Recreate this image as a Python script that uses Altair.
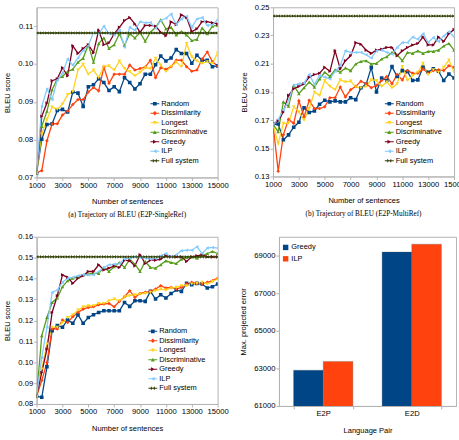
import altair as alt
import pandas as pd

# ---------------- data ----------------
sentences = [1000, 1400, 1800, 2200, 2600, 3000, 3400, 3800, 4200, 4600, 5000, 5400,
             5800, 6200, 6600, 7000, 7400, 7800, 8200, 8600, 9000, 9400, 9800, 10200,
             10600, 11000, 11400, 11800, 12200, 12600, 13000, 13400, 13800, 14200, 14600, 15000]

series_names = ["Random", "Dissimilarity", "Longest", "Discriminative", "Greedy", "ILP", "Full system"]
series_colors = ["#004586", "#ff420e", "#ffd320", "#579d1c", "#7e0021", "#83caff", "#314004"]

# (a) E2P-SingleRef
a_random = [0.0712, 0.0801, 0.0840, 0.0842, 0.0877, 0.0880, 0.0873, 0.0926, 0.0923, 0.0888, 0.0940, 0.0945,
            0.0961, 0.0951, 0.0930, 0.0940, 0.0927, 0.0964, 0.0951, 0.0934, 0.0948, 0.0973, 0.0973, 0.0998,
            0.1021, 0.1008, 0.1016, 0.1038, 0.1028, 0.1028, 0.1002, 0.1023, 0.1010, 0.1010, 0.0993, 0.0995]
a_dissim = [0.0712, 0.0718, 0.0797, 0.0842, 0.0842, 0.0865, 0.0875, 0.0893, 0.0906, 0.0906, 0.0926, 0.0938,
            0.0929, 0.0992, 0.0949, 0.0973, 0.0973, 0.0973, 0.0997, 0.0984, 0.0988, 0.0992, 0.1010, 0.0964,
            0.0990, 0.0986, 0.0993, 0.1010, 0.1010, 0.0993, 0.0981, 0.0984, 0.1013, 0.1032, 0.1006, 0.0995]
a_longest = [0.0712, 0.0815, 0.0853, 0.0886, 0.0880, 0.0894, 0.0919, 0.0927, 0.0984, 0.0999, 0.0973, 0.0984,
             0.0964, 0.0993, 0.0995, 0.0984, 0.1008, 0.0988, 0.0980, 0.0969, 0.0978, 0.0990, 0.0988, 0.1015,
             0.0997, 0.0980, 0.0993, 0.1005, 0.0993, 0.1054, 0.1019, 0.1008, 0.1002, 0.1006, 0.1002, 0.1030]
a_discrim = [0.0712, 0.0835, 0.0875, 0.0932, 0.0961, 0.0967, 0.0980, 0.0986, 0.1005, 0.1015, 0.1051, 0.1005,
             0.1054, 0.1069, 0.1041, 0.1051, 0.1080, 0.1049, 0.1080, 0.1069, 0.1083, 0.1060, 0.1084, 0.1097,
             0.1117, 0.1093, 0.1097, 0.1077, 0.1086, 0.1077, 0.1062, 0.1065, 0.1095, 0.1080, 0.1100, 0.1102]
a_greedy = [0.0712, 0.0862, 0.0897, 0.0956, 0.0961, 0.0990, 0.0969, 0.1048, 0.1028, 0.1041, 0.1051, 0.1030,
            0.1089, 0.1051, 0.1056, 0.1080, 0.1097, 0.1115, 0.1123, 0.1106, 0.1084, 0.1102, 0.1102, 0.1100,
            0.1084, 0.1075, 0.1112, 0.1104, 0.1130, 0.1123, 0.1086, 0.1093, 0.1112, 0.1112, 0.1109, 0.1106]
a_ilp = [0.0712, 0.0888, 0.0934, 0.0906, 0.0958, 0.0975, 0.1013, 0.0997, 0.1016, 0.1036, 0.1049, 0.1083,
         0.1080, 0.1100, 0.1080, 0.1077, 0.1089, 0.1045, 0.1097, 0.1089, 0.1112, 0.1109, 0.1110, 0.1095,
         0.1115, 0.1121, 0.1132, 0.1104, 0.1119, 0.1126, 0.1097, 0.1119, 0.1123, 0.1102, 0.1104, 0.1117]
a_full = 0.1082

# (b) E2P-MultiRef
b_random = [0.1670, 0.1672, 0.1560, 0.1595, 0.1649, 0.1684, 0.1787, 0.1754, 0.1765, 0.1812, 0.1840, 0.1829,
            0.1836, 0.1829, 0.1829, 0.1859, 0.1845, 0.1929, 0.1953, 0.2074, 0.1899, 0.1999, 0.1981, 0.2079,
            0.2009, 0.2051, 0.2044, 0.1981, 0.1985, 0.2074, 0.2039, 0.2063, 0.2046, 0.1981, 0.2027, 0.1999]
b_dissim = [0.1670, 0.1337, 0.1595, 0.1705, 0.1677, 0.1836, 0.1723, 0.1840, 0.1782, 0.1782, 0.1794, 0.1859,
            0.1859, 0.1934, 0.1864, 0.1915, 0.1939, 0.1976, 0.1957, 0.1929, 0.1946, 0.1981, 0.2009, 0.1957,
            0.2023, 0.1985, 0.2051, 0.2032, 0.2032, 0.2063, 0.2032, 0.2051, 0.2056, 0.2051, 0.2086, 0.2074]
b_longest = [0.1670, 0.1532, 0.1677, 0.1677, 0.1794, 0.1758, 0.1700, 0.1782, 0.1899, 0.1875, 0.1981, 0.1939,
             0.1915, 0.1985, 0.1969, 0.1976, 0.1934, 0.1929, 0.1939, 0.1985, 0.1981, 0.1939, 0.1969, 0.1929,
             0.1957, 0.2079, 0.1981, 0.2016, 0.2039, 0.2102, 0.2023, 0.2056, 0.2039, 0.2074, 0.2126, 0.2039]
b_discrim = [0.1670, 0.1618, 0.1829, 0.1798, 0.1946, 0.1887, 0.1929, 0.1969, 0.1934, 0.1992, 0.2039, 0.2009,
             0.2056, 0.2039, 0.2070, 0.2051, 0.2098, 0.2116, 0.2121, 0.2098, 0.2102, 0.2133, 0.2149, 0.2180,
             0.2163, 0.2121, 0.2180, 0.2173, 0.2191, 0.2173, 0.2187, 0.2187, 0.2196, 0.2226, 0.2243, 0.2196]
b_greedy = [0.1670, 0.1695, 0.1758, 0.1875, 0.1922, 0.1939, 0.1957, 0.2004, 0.2023, 0.2032, 0.2074, 0.2046,
            0.2191, 0.2063, 0.2121, 0.2156, 0.2250, 0.2238, 0.2196, 0.2173, 0.2196, 0.2203, 0.2215, 0.2215,
            0.2156, 0.2191, 0.2215, 0.2233, 0.2243, 0.2289, 0.2233, 0.2233, 0.2289, 0.2257, 0.2313, 0.2343]
b_ilp = [0.1670, 0.1705, 0.1770, 0.1840, 0.1946, 0.1957, 0.1962, 0.2023, 0.1953, 0.2016, 0.2004, 0.1992,
         0.2046, 0.2086, 0.2191, 0.2180, 0.2180, 0.2180, 0.2163, 0.2140, 0.2191, 0.2196, 0.2180, 0.2168,
         0.2215, 0.2250, 0.2250, 0.2289, 0.2273, 0.2313, 0.2250, 0.2285, 0.2257, 0.2297, 0.2327, 0.2289]
b_full = 0.2438

# (c)
c_random = [0.0837, 0.0832, 0.0978, 0.1151, 0.1175, 0.1167, 0.1202, 0.1186, 0.1227, 0.1186, 0.1214, 0.1227,
            0.1238, 0.1246, 0.1246, 0.1246, 0.1246, 0.1286, 0.1267, 0.1294, 0.1294, 0.1291, 0.1339, 0.1302,
            0.1323, 0.1307, 0.1329, 0.1345, 0.1339, 0.1377, 0.1371, 0.1377, 0.1374, 0.1355, 0.1361, 0.1374]
c_dissim = [0.0837, 0.0912, 0.0999, 0.1159, 0.1159, 0.1202, 0.1190, 0.1218, 0.1238, 0.1254, 0.1262, 0.1265,
            0.1275, 0.1278, 0.1281, 0.1265, 0.1291, 0.1313, 0.1342, 0.1310, 0.1329, 0.1334, 0.1339, 0.1350,
            0.1366, 0.1355, 0.1358, 0.1350, 0.1358, 0.1374, 0.1382, 0.1377, 0.1374, 0.1382, 0.1390, 0.1402]
c_longest = [0.0837, 0.0967, 0.1087, 0.1167, 0.1167, 0.1190, 0.1214, 0.1227, 0.1249, 0.1265, 0.1270, 0.1270,
             0.1281, 0.1281, 0.1294, 0.1302, 0.1294, 0.1313, 0.1318, 0.1323, 0.1326, 0.1329, 0.1334, 0.1342,
             0.1350, 0.1345, 0.1355, 0.1358, 0.1366, 0.1366, 0.1374, 0.1377, 0.1382, 0.1374, 0.1386, 0.1398]
c_discrim = [0.0837, 0.1127, 0.1214, 0.1286, 0.1307, 0.1361, 0.1390, 0.1402, 0.1406, 0.1418, 0.1422, 0.1425,
             0.1425, 0.1453, 0.1434, 0.1457, 0.1477, 0.1453, 0.1493, 0.1469, 0.1434, 0.1482, 0.1453, 0.1450,
             0.1466, 0.1485, 0.1477, 0.1472, 0.1493, 0.1501, 0.1504, 0.1498, 0.1509, 0.1520, 0.1530, 0.1520]
c_greedy = [0.0837, 0.0951, 0.1063, 0.1238, 0.1318, 0.1418, 0.1406, 0.1377, 0.1402, 0.1414, 0.1434, 0.1434,
            0.1466, 0.1441, 0.1450, 0.1461, 0.1453, 0.1488, 0.1485, 0.1461, 0.1514, 0.1472, 0.1488, 0.1488,
            0.1493, 0.1509, 0.1504, 0.1504, 0.1504, 0.1482, 0.1504, 0.1509, 0.1514, 0.1504, 0.1504, 0.1504]
c_ilp = [0.0837, 0.1023, 0.1167, 0.1334, 0.1345, 0.1382, 0.1402, 0.1406, 0.1414, 0.1418, 0.1418, 0.1418,
         0.1434, 0.1453, 0.1466, 0.1469, 0.1472, 0.1493, 0.1498, 0.1504, 0.1501, 0.1498, 0.1493, 0.1498,
         0.1509, 0.1520, 0.1504, 0.1514, 0.1533, 0.1536, 0.1536, 0.1552, 0.1520, 0.1546, 0.1549, 0.1546]
c_full = 0.1504

# (d) bars
pairs = ["E2P", "E2D"]
bar_methods = ["Greedy", "ILP"]
bar_colors = ["#004586", "#ff420e"]
greedy_err = [62900, 69190]
ilp_err = [63370, 69610]

# ---------------- styling helpers ----------------
FONT = "Liberation Sans"
GRAY = "#b3b3b3"
marker_shapes = ["square", "diamond", "triangle-down", "triangle-up", "triangle-right", "triangle-left",
                 "M-1,-1L0,0L-1,1Z M1,-1L1,1L0,0Z"]
LINE = "M-1,-0.12H1V0.12H-1Z "
legend_paths = [
    LINE + "M-0.42,-0.42H0.42V0.42H-0.42Z",
    LINE + "M0,-0.5L0.5,0L0,0.5L-0.5,0Z",
    LINE + "M-0.45,-0.4H0.45L0,0.45Z",
    LINE + "M-0.45,0.4L0,-0.45L0.45,0.4Z",
    LINE + "M-0.4,-0.45L0.45,0L-0.4,0.45Z",
    LINE + "M0.4,-0.45V0.45L-0.45,0Z",
    LINE + "M-0.45,-0.45L0,0L-0.45,0.45Z M0.45,-0.45L0.45,0.45L0,0Z",
]


def make_df(vals):
    rows = []
    for name, arr, mk in zip(series_names[:6], vals[:6], marker_shapes[:6]):
        for s, v in zip(sentences, arr):
            rows.append({"sentences": s, "bleu": v, "method": name, "marker": mk})
    for s in sentences:
        rows.append({"sentences": s, "bleu": vals[6], "method": "Full system", "marker": marker_shapes[6]})
    return pd.DataFrame(rows)


def line_panel(vals, domain, ticks, height, legend_xy, caption=None):
    df = make_df(vals)
    x = alt.X("sentences:Q", scale=alt.Scale(domain=[1000, 15000], nice=False),
              axis=alt.Axis(values=list(range(1000, 15001, 2000)), format="d",
                            title="Number of sentences", labelOverlap=False, labelFlush=False))
    y = alt.Y("bleu:Q", scale=alt.Scale(domain=domain, nice=False, zero=False),
              axis=alt.Axis(values=ticks, format=".2f", title="BLEU score"))
    cscale = alt.Scale(domain=series_names, range=series_colors)
    leg = alt.Legend(title=None, orient="none", legendX=legend_xy[0], legendY=legend_xy[1],
                     symbolSize=81, rowPadding=1.6, labelOffset=2, symbolStrokeWidth=0,
                     labelFontSize=7.5, labelFont=FONT, labelColor="#000", symbolOpacity=1)
    base = alt.Chart(df)
    lines = base.mark_line(strokeWidth=1.3, clip=True).encode(
        x=x, y=y, color=alt.Color("method:N", scale=cscale, legend=None), order="sentences:Q")
    points = base.mark_point(filled=True, size=13, opacity=1, clip=True).encode(
        x=x, y=y, color=alt.Color("method:N", scale=cscale, legend=None),
        shape=alt.Shape("marker:N", scale=None))
    legend_layer = base.transform_filter("datum.sentences < 0").mark_point(
        filled=True, opacity=1).encode(
        x=x, y=y,
        color=alt.Color("method:N", scale=cscale, legend=leg),
        shape=alt.Shape("method:N", scale=alt.Scale(domain=series_names, range=legend_paths), legend=leg))
    props = dict(width=183, height=height)
    if caption:
        props["title"] = alt.TitleParams(caption, orient="bottom", anchor="middle", frame="group",
                                         font="Liberation Serif", fontSize=7.3, fontWeight="normal",
                                         color="#000", offset=6)
    return alt.layer(lines, points, legend_layer).resolve_scale(
        color="independent", shape="independent").properties(**props)


panel_a = line_panel([a_random, a_dissim, a_longest, a_discrim, a_greedy, a_ilp, a_full],
                     [0.07, 0.115], [0.07, 0.08, 0.09, 0.10, 0.11], 172, (115, 93),
                     caption="(a)  Trajectory of BLEU (E2P-SingleRef)")
panel_b = line_panel([b_random, b_dissim, b_longest, b_discrim, b_greedy, b_ilp, b_full],
                     [0.13, 0.25], [0.13, 0.15, 0.17, 0.19, 0.21, 0.23, 0.25], 171, (113, 93),
                     caption="(b)  Trajectory of BLEU (E2P-MultiRef)")
panel_c = line_panel([c_random, c_dissim, c_longest, c_discrim, c_greedy, c_ilp, c_full],
                     [0.08, 0.16], [0.08, 0.09, 0.10, 0.11, 0.12, 0.13, 0.14, 0.15, 0.16], 169, (113, 91))

bar_rows = []
for p, g, i in zip(pairs, greedy_err, ilp_err):
    bar_rows.append({"pair": p, "method": "Greedy", "err": g})
    bar_rows.append({"pair": p, "method": "ILP", "err": i})
bar_df = pd.DataFrame(bar_rows)

panel_d = alt.Chart(bar_df).mark_bar(clip=True, stroke="#5a5a5a", strokeWidth=0.3).encode(
    x=alt.X("pair:N", sort=pairs, scale=alt.Scale(paddingInner=0.33, paddingOuter=0.165),
            axis=alt.Axis(title="Language Pair", labelAngle=0, tickBand="extent")),
    xOffset=alt.XOffset("method:N", sort=bar_methods),
    y=alt.Y("err:Q", scale=alt.Scale(domain=[61000, 70000], nice=False, zero=False),
            axis=alt.Axis(values=[61000, 63000, 65000, 67000, 69000], format="d",
                          title="Max. projected error")),
    color=alt.Color("method:N", scale=alt.Scale(domain=bar_methods, range=bar_colors),
                    legend=alt.Legend(title=None, orient="none", legendX=3, legendY=7,
                                      symbolType="square", symbolSize=30, rowPadding=2.5, labelOffset=2,
                                      labelFontSize=7.5, labelFont=FONT, labelColor="#000",
                                      symbolStrokeWidth=0, symbolOpacity=1)),
).properties(width=179, height=171)

RES = dict(x="independent", y="independent", color="independent", shape="independent")
top = alt.hconcat(panel_a, panel_b, spacing=10).resolve_scale(**RES).resolve_legend(
    color="independent", shape="independent")
bottom = alt.hconcat(panel_c, panel_d, spacing=10).resolve_scale(**RES).resolve_legend(
    color="independent", shape="independent")

chart = alt.vconcat(top, bottom, spacing=12).resolve_scale(**RES).resolve_legend(
    color="independent", shape="independent").properties(
    padding={"left": 3, "top": 0, "right": -7, "bottom": 0}
).configure(background="white").configure_view(
    stroke=GRAY, strokeWidth=1
).configure_axis(
    labelFont=FONT, titleFont=FONT, labelFontSize=7.7, titleFontSize=7.6, labelColor="#000",
    titleColor="#000", titleFontWeight="normal", domainColor=GRAY, tickColor=GRAY, tickSize=3,
    labelPadding=1, grid=False
).configure_axisY(titlePadding=6).configure_axisX(titlePadding=9)

chart.save("out.html", embed_options={"renderer": "svg", "actions": False})
